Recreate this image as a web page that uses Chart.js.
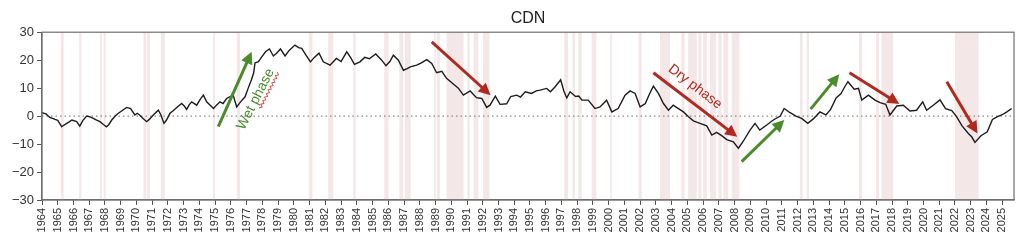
<!DOCTYPE html>
<html>
<head>
<meta charset="utf-8">
<script src="https://cdn.jsdelivr.net/npm/chart.js@4/dist/chart.umd.min.js"></script>
<style>
html,body{margin:0;padding:0;background:#fff;}
#wrap{width:1024px;height:243px;}
</style>
</head>
<body>
<div id="wrap"><canvas id="c" width="1024" height="243"></canvas></div>
<script>
// ---- Data ----
const years = [1964.0,1964.25,1964.5,1964.83,1965.0,1965.25,1965.4,1965.57,1965.75,1965.9,1966.2,1966.4,1966.6,1966.84,1967.05,1967.26,1967.5,1967.68,1967.9,1968.1,1968.25,1968.43,1968.65,1968.85,1969.1,1969.38,1969.63,1969.9,1970.05,1970.2,1970.4,1970.65,1970.85,1971.07,1971.39,1971.55,1971.75,1971.9,1972.13,1972.35,1972.56,1972.87,1973.05,1973.19,1973.35,1973.51,1973.83,1974.05,1974.25,1974.46,1974.7,1974.9,1975.1,1975.31,1975.5,1975.73,1975.95,1976.15,1976.25,1976.37,1976.6,1976.9,1977.1,1977.3,1977.45,1977.53,1977.75,1977.96,1978.2,1978.45,1978.7,1978.9,1979.15,1979.44,1979.7,1980.07,1980.3,1980.5,1980.75,1981.05,1981.3,1981.6,1981.87,1982.3,1982.7,1983.0,1983.36,1983.6,1983.85,1984.2,1984.5,1984.8,1985.2,1985.58,1985.85,1986.1,1986.32,1986.64,1986.96,1987.2,1987.4,1987.8,1988.1,1988.44,1988.76,1989.07,1989.4,1989.7,1990.13,1990.45,1990.77,1991.2,1991.6,1991.94,1992.25,1992.46,1992.8,1993.1,1993.52,1993.78,1994.16,1994.4,1994.7,1995.1,1995.4,1995.64,1996.06,1996.3,1996.6,1996.95,1997.15,1997.34,1997.55,1997.9,1998.1,1998.3,1998.7,1999.13,1999.45,1999.87,2000.2,2000.6,2001.04,2001.36,2001.68,2002.0,2002.33,2002.6,2002.84,2003.16,2003.48,2003.8,2004.1,2004.43,2004.75,2005.07,2005.38,2005.8,2006.23,2006.55,2006.86,2007.18,2007.5,2007.92,2008.24,2008.56,2008.98,2009.3,2009.6,2010.04,2010.46,2010.9,2011.15,2011.5,2011.9,2012.26,2012.65,2013.0,2013.42,2013.8,2014.1,2014.45,2014.75,2015.0,2015.2,2015.6,2015.87,2016.08,2016.5,2016.92,2017.24,2017.6,2017.87,2018.3,2018.72,2019.14,2019.56,2019.95,2020.2,2020.62,2021.05,2021.4,2021.8,2022.1,2022.45,2022.85,2023.06,2023.27,2023.65,2024.05,2024.38,2024.7,2024.97,2025.3,2025.6];
const cdnValues = [1.2,0.8,-0.5,-1.2,-1.5,-3.8,-3.2,-2.6,-2.0,-1.4,-2.0,-3.6,-1.5,0,-0.3,-0.8,-1.5,-2.0,-3.0,-3.8,-3.0,-1.4,0,1.0,2.0,3.1,2.7,0.4,1.0,0.4,-0.8,-2.0,-1.0,0.4,2.1,0.5,-2.6,-1.5,1.0,2.0,3.1,4.5,3.5,2.4,4.0,5.1,3.9,6.0,7.5,5.1,3.8,2.7,4.0,5.1,4.5,6.3,7.0,7.5,5.5,3.3,5.0,6.9,10.0,12.9,15.5,19.0,19.5,21.2,23.0,24.0,21.5,22.5,24.0,21.5,23.5,25.4,24.5,24.2,22.0,19.4,21.0,22.5,19.4,18.2,20.6,19.5,23.0,21.0,18.5,19.4,21.0,20.5,22.2,20.0,18.0,19.5,21.8,20.0,16.4,17.0,17.6,18.2,19.0,20.2,18.8,15.5,16.0,13.5,11.5,10.0,7.5,9.0,6.6,6.3,3.1,3.9,7.1,4.2,4.4,7.0,7.5,6.8,8.7,8.1,9.0,9.3,9.9,8.7,10.5,13.0,9.0,6.5,8.7,7.0,7.2,5.7,5.7,2.7,3.3,5.7,1.5,2.7,7.5,9.0,8.1,3.3,4.5,8.0,10.7,8.1,4.5,2.1,3.9,2.7,1.5,-0.2,-1.7,-2.6,-3.5,-6.8,-5.8,-7.0,-8.4,-9.2,-11.5,-8.9,-5.0,-2.6,-5.0,-3.2,-1.4,0,2.7,1.3,0.0,-0.8,-2.6,-1.0,1.5,0.4,2.4,6.5,8.0,10.5,12.3,9.6,9.9,5.7,7.5,5.7,4.8,4.2,0.4,3.6,3.9,1.8,2.1,5.1,2.1,3.9,5.8,2.7,2.0,-0.2,-3.5,-6.2,-7.4,-9.4,-7.0,-5.6,-1.2,-0.2,0.4,1.5,2.7];

// shaded periods [start, end] in decimal years
const shadedPeriods = [[1965.2,1965.38],[1966.36,1966.5],[1967.68,1967.8],[1967.92,1968.05],[1970.45,1970.62],[1970.68,1970.85],[1971.55,1971.8],[1974.87,1975.0],[1976.38,1976.58],[1980.95,1981.18],[1982.18,1982.5],[1983.78,1983.92],[1985.74,1986.02],[1986.7,1986.95],[1987.05,1987.42],[1988.92,1989.0],[1989.08,1989.27],[1989.7,1990.78],[1991.02,1991.17],[1991.42,1991.72],[1992.02,1992.42],[1997.18,1997.42],[1997.7,1997.85],[1998.07,1998.28],[1998.92,1999.22],[2000.1,2000.2],[2001.9,2002.1],[2003.26,2003.9],[2004.62,2004.82],[2005.05,2005.6],[2005.7,2005.9],[2006.0,2006.23],[2006.44,2006.82],[2006.97,2007.18],[2007.29,2007.6],[2007.82,2008.3],[2012.15,2012.32],[2012.58,2012.72],[2015.9,2016.1],[2016.99,2017.17],[2017.33,2018.07],[2022.0,2023.5]];

// arrows: [x1, y1, x2, y2] in data units (tail -> head)
const wetArrows = [[1975.2,-3.8,1977.32,23],[2008.45,-16.3,2011.16,-1.4],[2012.83,2.5,2014.65,15]];
const dryArrows = [[1988.76,26.5,1992.5,7.5],[2002.84,15.5,2008.17,-7.4],[2015.3,15.5,2018.47,4.3],[2021.48,12.3,2023.43,-6.2]];
// phase labels: [text, x, y]
const wetLabel = ['Wet phase', 1977.58, 6.0];
const dryLabel = ['Dry phase', 2005.49, 10.5];

const yTicks = [-30,-20,-10,0,10,20,30];

const FONT = '"Liberation Sans", Arial, Helvetica, sans-serif';
const GREEN = '#4a8b2c';
const RED = '#b0291f';

function drawArrow(ctx, x1, y1, x2, y2, color) {
  const ang = Math.atan2(y2 - y1, x2 - x1);
  const hl = 12, hw = 6;
  const bx = x2 - hl * Math.cos(ang), by = y2 - hl * Math.sin(ang);
  ctx.save();
  ctx.strokeStyle = color; ctx.fillStyle = color;
  ctx.lineWidth = 3; ctx.lineCap = 'butt';
  ctx.beginPath(); ctx.moveTo(x1, y1); ctx.lineTo(bx + 1 * Math.cos(ang), by + 1 * Math.sin(ang)); ctx.stroke();
  ctx.beginPath();
  ctx.moveTo(x2, y2);
  ctx.lineTo(bx + hw * Math.sin(ang), by - hw * Math.cos(ang));
  ctx.lineTo(bx - hw * Math.sin(ang), by + hw * Math.cos(ang));
  ctx.closePath(); ctx.fill();
  ctx.restore();
}

const decorPlugin = {
  id: 'decor',
  beforeDatasetsDraw(chart) {
    const {ctx, chartArea: a, scales: {x, y}} = chart;
    ctx.save();
    ctx.beginPath(); ctx.rect(a.left, a.top, a.right - a.left, a.bottom - a.top); ctx.clip();
    ctx.fillStyle = 'rgba(222,182,182,0.33)';
    shadedPeriods.forEach(([s, e]) => {
      const px1 = x.getPixelForValue(s), px2 = x.getPixelForValue(e);
      ctx.fillRect(px1, a.top, Math.max(px2 - px1, 1.5), a.bottom - a.top);
    });
    // dotted zero line
    const y0 = y.getPixelForValue(0);
    ctx.strokeStyle = '#8a8a8a'; ctx.lineWidth = 1.3; ctx.setLineDash([1.5, 3]);
    ctx.beginPath(); ctx.moveTo(a.left, y0); ctx.lineTo(a.right, y0); ctx.stroke();
    ctx.restore();
  },
  afterDatasetsDraw(chart) {
    const {ctx, chartArea: a, scales: {x, y}} = chart;
    wetArrows.forEach(r => drawArrow(ctx, x.getPixelForValue(r[0]), y.getPixelForValue(r[1]), x.getPixelForValue(r[2]), y.getPixelForValue(r[3]), GREEN));
    dryArrows.forEach(r => drawArrow(ctx, x.getPixelForValue(r[0]), y.getPixelForValue(r[1]), x.getPixelForValue(r[2]), y.getPixelForValue(r[3]), RED));
    ctx.save();
    ctx.font = '14px ' + FONT;
    ctx.textAlign = 'center'; ctx.textBaseline = 'middle';
    // wet label
    ctx.save();
    ctx.translate(x.getPixelForValue(wetLabel[1]), y.getPixelForValue(wetLabel[2]));
    ctx.rotate(-63 * Math.PI / 180);
    ctx.fillStyle = GREEN;
    ctx.fillText(wetLabel[0], 0, 0);
    // spell-check squiggle under "phase"
    ctx.strokeStyle = '#e0453a'; ctx.lineWidth = 0.9;
    ctx.beginPath();
    for (let i = 0; i <= 20; i++) {
      const px = -6 + i * 2, py = 8 + (i % 2 ? 1.2 : -1.2);
      if (i === 0) ctx.moveTo(px, py); else ctx.lineTo(px, py);
    }
    ctx.stroke();
    ctx.restore();
    // dry label
    ctx.save();
    ctx.translate(x.getPixelForValue(dryLabel[1]), y.getPixelForValue(dryLabel[2]));
    ctx.rotate(37.5 * Math.PI / 180);
    ctx.fillStyle = RED;
    ctx.fillText(dryLabel[0], 0, 0);
    ctx.restore();
    ctx.restore();
    // frame
    ctx.save();
    ctx.strokeStyle = '#6e6e6e'; ctx.lineWidth = 1.2;
    ctx.strokeRect(a.left, a.top, a.right - a.left, a.bottom - a.top);
    ctx.restore();
  }
};

new Chart(document.getElementById('c'), {
  type: 'line',
  data: {
    datasets: [{
      label: 'CDN',
      data: years.map((yr, i) => ({x: yr, y: cdnValues[i]})),
      borderColor: '#1c1c1c',
      borderWidth: 1.4,
      pointRadius: 0,
      tension: 0,
      fill: false
    }]
  },
  options: {
    responsive: false,
    animation: false,
    devicePixelRatio: 1,
    layout: {padding: {left: 0, right: 10, top: 0, bottom: 0}},
    plugins: {
      legend: {display: false},
      tooltip: {enabled: false},
      title: {
        display: true, text: 'CDN', color: '#222', fullSize: false,
        font: {family: FONT, size: 16, weight: 'normal', lineHeight: 1.2},
        padding: {top: 9, bottom: 4}
      }
    },
    scales: {
      x: {
        type: 'linear', min: 1964, max: 2025.75,
        afterFit(s) { s.height = 43; },
        grid: {drawOnChartArea: false, tickLength: 5, color: '#555', tickWidth: 1},
        border: {color: '#6e6e6e', width: 1.2},
        ticks: {
          stepSize: 1, includeBounds: false, autoSkip: false,
          minRotation: 90, maxRotation: 90, padding: 3,
          color: '#333', font: {family: FONT, size: 11},
          callback: v => String(v)
        }
      },
      y: {
        type: 'linear', min: -30, max: 30,
        afterFit(s) { s.width = 42; },
        afterBuildTicks(s) { s.ticks = yTicks.map(v => ({value: v})); },
        grid: {drawOnChartArea: false, tickLength: 5, color: '#555', tickWidth: 1},
        border: {color: '#6e6e6e', width: 1.2},
        ticks: {
          padding: 3, color: '#333', font: {family: FONT, size: 13},
          callback: v => String(v).replace('-', '\u2212')
        }
      }
    }
  },
  plugins: [decorPlugin]
});
</script>
</body>
</html>
